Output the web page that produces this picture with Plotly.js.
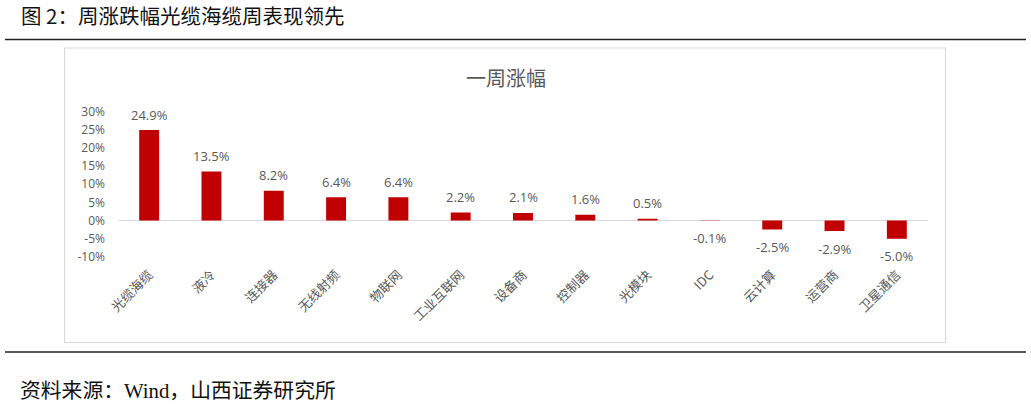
<!DOCTYPE html>
<html>
<head>
<meta charset="utf-8">
<script src="https://cdn.plot.ly/plotly-3.0.1.min.js"></script>
<style>
html,body{margin:0;padding:0;background:#fff;}
#chart{width:1031px;height:408px;}
</style>
</head>
<body>
<div id="chart"></div>
<script>
const categories = ['光缆海缆','液冷','连接器','无线射频','物联网','工业互联网','设备商','控制器','光模块','IDC','云计算','运营商','卫星通信'];
const values = [24.9, 13.5, 8.2, 6.4, 6.4, 2.2, 2.1, 1.6, 0.5, -0.1, -2.5, -2.9, -5.0];
const yTickVals = [-10, -5, 0, 5, 10, 15, 20, 25, 30];
const yTickText = ['-10%','-5%','0%','5%','10%','15%','20%','25%','30%'];
const figureTitle = '图 2：周涨跌幅光缆海缆周表现领先';
const chartTitle = '一周涨幅';
const sourceText = '资料来源：Wind，山西证券研究所';

const W = 1031, H = 408;
const px = x => x / W;
const py = y => 1 - y / H;

const labelFont = {family: 'Open Sans, Noto Sans CJK SC, sans-serif', size: 13, color: '#595959'};

const dataLabels = categories.map((c, i) => ({
  x: c, y: values[i], xref: 'x', yref: 'y',
  text: values[i].toFixed(1) + '%',
  showarrow: false,
  yshift: values[i] >= 0 ? 15.5 : -17.5,
  font: labelFont
}));

const trace = {
  type: 'bar',
  x: categories,
  y: values,
  width: 0.32,
  marker: {color: '#C00000'},
  hoverinfo: 'skip'
};

const layout = {
  width: W, height: H,
  margin: {l: 0, r: 0, t: 0, b: 0},
  paper_bgcolor: '#ffffff',
  plot_bgcolor: 'rgba(0,0,0,0)',
  showlegend: false,
  xaxis: {
    domain: [px(118), px(928)],
    range: [-0.5, 12.5],
    type: 'category',
    showgrid: false, zeroline: false, showline: false,
    ticks: '',
    tickangle: -45,
    ticklabelstandoff: 7,
    tickfont: {family: 'Noto Sans CJK SC, sans-serif', size: 13, color: '#595959'}
  },
  yaxis: {
    domain: [py(256.8), py(111.6)],
    range: [-10, 30],
    tickvals: yTickVals,
    ticktext: yTickText,
    showgrid: false,
    zeroline: true, zerolinecolor: '#d9d9d9', zerolinewidth: 1.2,
    showline: false, ticks: '',
    ticklabelstandoff: 12,
    tickfont: {family: 'Open Sans, sans-serif', size: 12, color: '#595959'}
  },
  shapes: [
    {type: 'line', xref: 'paper', yref: 'paper', x0: px(5), x1: px(1026), y0: py(39.5), y1: py(39.5), line: {color: '#222', width: 1.5}},
    {type: 'line', xref: 'paper', yref: 'paper', x0: px(5), x1: px(1026), y0: py(352), y1: py(352), line: {color: '#222', width: 1.5}},
    {type: 'rect', xref: 'paper', yref: 'paper', x0: px(64.5), x1: px(945.5), y0: py(342.5), y1: py(48), line: {color: '#d9d9d9', width: 1.2}, layer: 'below'}
  ],
  annotations: [
    {xref: 'paper', yref: 'paper', x: px(19), y: py(15), xanchor: 'left', yanchor: 'middle', showarrow: false,
     text: figureTitle, font: {family: 'Noto Sans CJK SC, sans-serif', size: 20.5, color: '#111'}},
    {xref: 'paper', yref: 'paper', x: px(506), y: py(77.5), xanchor: 'center', yanchor: 'middle', showarrow: false,
     text: chartTitle, font: {family: 'Noto Sans CJK SC, sans-serif', size: 20, color: '#595959'}},
    {xref: 'paper', yref: 'paper', x: px(18), y: py(390), xanchor: 'left', yanchor: 'middle', showarrow: false,
     text: sourceText, font: {family: 'Liberation Serif, Noto Sans CJK SC, serif', size: 20.8, color: '#111'}}
  ].concat(dataLabels)
};

Plotly.newPlot('chart', [trace], layout, {displayModeBar: false, staticPlot: true});
</script>
</body>
</html>
